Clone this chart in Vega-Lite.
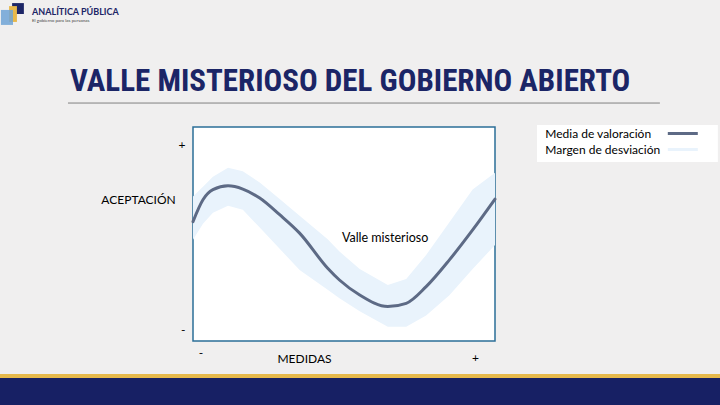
{
  "$schema": "https://vega.github.io/schema/vega-lite/v6.json",
  "width": 302,
  "height": 214,
  "autosize": {"type": "none"},
  "padding": {"left": 193, "top": 127, "right": 225, "bottom": 64},
  "background": "#f0efef",
  "view": {"fill": "white", "stroke": "#2b6f98", "strokeWidth": 1.5},
  "data": {
    "values": [
      {"x": 0.0, "m": 0.558, "lo": 0.473, "hi": 0.675},
      {"x": 0.033, "m": 0.66, "lo": 0.548, "hi": 0.721},
      {"x": 0.066, "m": 0.707, "lo": 0.599, "hi": 0.767},
      {"x": 0.116, "m": 0.725, "lo": 0.632, "hi": 0.81},
      {"x": 0.165, "m": 0.71, "lo": 0.613, "hi": 0.793},
      {"x": 0.221, "m": 0.668, "lo": 0.53, "hi": 0.741},
      {"x": 0.287, "m": 0.59, "lo": 0.431, "hi": 0.663},
      {"x": 0.353, "m": 0.504, "lo": 0.332, "hi": 0.585},
      {"x": 0.446, "m": 0.34, "lo": 0.239, "hi": 0.475},
      {"x": 0.485, "m": 0.285, "lo": 0.2, "hi": 0.418},
      {"x": 0.552, "m": 0.215, "lo": 0.139, "hi": 0.337},
      {"x": 0.645, "m": 0.161, "lo": 0.067, "hi": 0.262},
      {"x": 0.706, "m": 0.176, "lo": 0.067, "hi": 0.29},
      {"x": 0.772, "m": 0.254, "lo": 0.119, "hi": 0.402},
      {"x": 0.849, "m": 0.379, "lo": 0.214, "hi": 0.555},
      {"x": 0.926, "m": 0.519, "lo": 0.336, "hi": 0.708},
      {"x": 1.0, "m": 0.663, "lo": 0.449, "hi": 0.786}
    ]
  },
  "layer": [
    {
      "mark": {"type": "area", "interpolate": "linear", "opacity": 1},
      "encoding": {
        "x": {"field": "x", "type": "quantitative", "scale": {"domain": [0, 1], "nice": false, "zero": false},
          "axis": {"values": [0.025, 0.934], "labelExpr": "datum.value > 0.5 ? '+' : '-'", "labelPadding": {"condition": {"test": "datum.value > 0.5", "value": 11}, "value": 6}, "title": "MEDIDAS", "titleX": 111, "titleY": 17, "titleBaseline": "middle", "titleAlign": "center"}},
        "y": {"field": "lo", "type": "quantitative", "scale": {"domain": [0, 1], "nice": false, "zero": false},
          "axis": {"values": [0.056, 0.917], "labelExpr": "datum.value > 0.5 ? '+' : '-'", "labelPadding": 8, "title": "ACEPTACIÓN", "titleAngle": 0, "titleX": -55, "titleY": 72, "titleBaseline": "middle", "titleAlign": "center"}},
        "y2": {"field": "hi"},
        "color": {"datum": "Margen de desviación", "type": "nominal"}
      }
    },
    {
      "mark": {"type": "line", "interpolate": "monotone", "strokeWidth": 3, "strokeCap": "round"},
      "encoding": {
        "x": {"field": "x", "type": "quantitative"},
        "y": {"field": "m", "type": "quantitative"},
        "color": {"datum": "Media de valoración", "type": "nominal",
          "scale": {"domain": ["Media de valoración", "Margen de desviación"], "range": ["#5d6a85", "#e9f3fc"]},
          "legend": {
            "title": null,
            "orient": "none",
            "legendX": 483.3,
            "legendY": 0,
            "direction": "vertical",
            "symbolType": "M-3,0H3",
            "symbolSize": 100,
            "symbolStrokeWidth": 3,
            "symbolFillColor": "transparent",
            "labelFont": "Lato",
            "labelFontSize": 12,
            "labelColor": "#000000",
            "labelAlign": "left",
            "labelOffset": -144,
            "rowPadding": 3,
            "padding": 0,
            "labelLimit": 200,
            "encode": {
              "symbols": {"update": {"stroke": {"signal": "datum.value === 'Media de valoración' ? '#1f5c99' : '#d9e8f7'"}, "strokeWidth": {"value": 3}, "fill": {"value": "transparent"}}}
            }
          }
        }
      }
    },
    {
      "data": {"values": [{}]},
      "mark": {"type": "text", "text": "Valle misterioso", "align": "left", "baseline": "middle", "font": "Lato", "fontSize": 12.5, "color": "#000000"},
      "encoding": {
        "x": {"datum": 0.493, "type": "quantitative"},
        "y": {"datum": 0.482, "type": "quantitative"}
      }
    },
    {
      "data": {"values": [{}]},
      "mark": {"type": "rect", "color": "#172064"},
      "encoding": {
        "x": {"datum": -0.64, "type": "quantitative"},
        "x2": {"datum": 1.75},
        "y": {"datum": -0.173, "type": "quantitative"},
        "y2": {"datum": -0.31}
      }
    },
    {
      "data": {"values": [{}]},
      "mark": {"type": "rect", "color": "#e6b94b"},
      "encoding": {
        "x": {"datum": -0.64, "type": "quantitative"},
        "x2": {"datum": 1.75},
        "y": {"datum": -0.154, "type": "quantitative"},
        "y2": {"datum": -0.173}
      }
    },
    {
      "data": {"values": [{}]},
      "mark": {"type": "rule", "color": "#808080", "strokeWidth": 1},
      "encoding": {
        "x": {"datum": -0.414, "type": "quantitative"},
        "x2": {"datum": 1.546},
        "y": {"datum": 1.112, "type": "quantitative"}
      }
    },
    {
      "data": {"values": [{}]},
      "mark": {"type": "text", "text": "VALLE MISTERIOSO DEL GOBIERNO ABIERTO", "align": "left", "baseline": "alphabetic", "font": "Roboto Condensed", "fontSize": 31, "fontWeight": "bold", "color": "#1b2566"},
      "encoding": {
        "x": {"datum": -0.407, "type": "quantitative"},
        "y": {"datum": 1.168, "type": "quantitative"}
      }
    },
    {
      "data": {"values": [{}]},
      "mark": {"type": "rect", "color": "#1c2566"},
      "encoding": {
        "x": {"datum": -0.599, "type": "quantitative"},
        "x2": {"datum": -0.56},
        "y": {"datum": 1.579, "type": "quantitative"},
        "y2": {"datum": 1.528}
      }
    },
    {
      "data": {"values": [{}]},
      "mark": {"type": "rect", "color": "#e8b84a"},
      "encoding": {
        "x": {"datum": -0.609, "type": "quantitative"},
        "x2": {"datum": -0.583},
        "y": {"datum": 1.565, "type": "quantitative"},
        "y2": {"datum": 1.491}
      }
    },
    {
      "data": {"values": [{}]},
      "mark": {"type": "rect", "color": "#6fa3d6", "opacity": 0.85},
      "encoding": {
        "x": {"datum": -0.636, "type": "quantitative"},
        "x2": {"datum": -0.596},
        "y": {"datum": 1.547, "type": "quantitative"},
        "y2": {"datum": 1.477}
      }
    },
    {
      "data": {"values": [{}]},
      "mark": {"type": "text", "text": "ANALÍTICA PÚBLICA", "align": "left", "baseline": "middle", "font": "Lato", "fontSize": 9, "fontWeight": "bold", "color": "#1c2566"},
      "encoding": {
        "x": {"datum": -0.533, "type": "quantitative"},
        "y": {"datum": 1.537, "type": "quantitative"}
      }
    },
    {
      "data": {"values": [{}]},
      "mark": {"type": "text", "text": "El gobierno para las personas", "align": "left", "baseline": "middle", "font": "Lato", "fontSize": 4.5, "color": "#444444"},
      "encoding": {
        "x": {"datum": -0.533, "type": "quantitative"},
        "y": {"datum": 1.495, "type": "quantitative"}
      }
    },
    {
      "data": {"values": [{}]},
      "mark": {"type": "rect", "color": "white"},
      "encoding": {
        "x": {"datum": 1.139, "type": "quantitative"},
        "x2": {"datum": 1.738},
        "y": {"datum": 1.009, "type": "quantitative"},
        "y2": {"datum": 0.836}
      }
    }
  ],
  "config": {
    "axis": {
      "labelFont": "Lato",
      "titleFont": "Lato",
      "labelColor": "#000000",
      "titleColor": "#000000",
      "titleFontWeight": "normal",
      "labelFontSize": 12,
      "titleFontSize": 12,
      "domain": false,
      "ticks": false,
      "grid": false
    }
  }
}
